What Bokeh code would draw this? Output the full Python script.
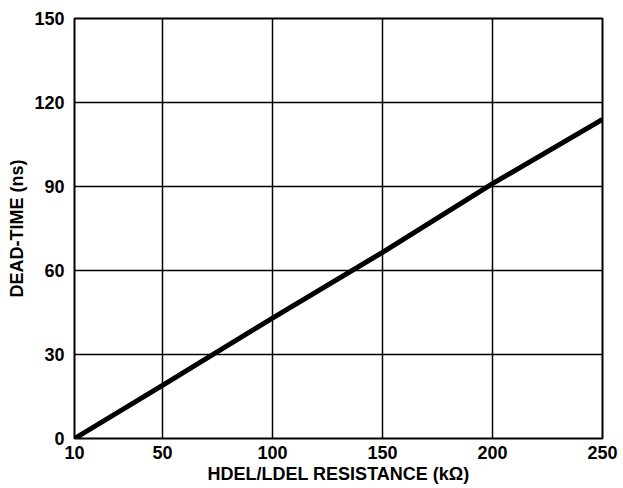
from bokeh.plotting import figure
from bokeh.models import FixedTicker, Range1d
from bokeh.embed import file_html
from bokeh.resources import INLINE

# Data
resistance_kohm = [10, 50, 100, 150, 200, 250]
dead_time_ns = [0, 19, 43, 66.5, 91, 114]
x_ticks = [10, 50, 100, 150, 200, 250]
y_ticks = [0, 30, 60, 90, 120, 150]

FONT = "Liberation Sans"

p = figure(width=623, height=488, output_backend="svg", toolbar_location=None,
           x_range=Range1d(10, 250), y_range=Range1d(0, 150),
           min_border_left=74, min_border_right=21, min_border_top=18, min_border_bottom=50)

p.line(resistance_kohm, dead_time_ns, line_color="black", line_width=5)

p.xaxis.ticker = FixedTicker(ticks=x_ticks)
p.yaxis.ticker = FixedTicker(ticks=y_ticks)

for ax in (p.xaxis[0], p.yaxis[0]):
    ax.axis_line_color = None
    ax.major_tick_line_color = None
    ax.minor_tick_line_color = None
    ax.major_tick_out = 0
    ax.major_tick_in = 0
    ax.major_label_text_font = FONT
    ax.major_label_text_font_style = "bold"
    ax.major_label_text_font_size = "18px"
    ax.major_label_text_color = "black"
    ax.axis_label_text_font = FONT
    ax.axis_label_text_font_style = "bold"
    ax.axis_label_text_font_size = "18px"
    ax.axis_label_text_color = "black"

p.xaxis.axis_label = "HDEL/LDEL RESISTANCE (kΩ)"
p.yaxis.axis_label = "DEAD-TIME (ns)"
p.xaxis.major_label_standoff = 7
p.yaxis.major_label_standoff = 10
p.xaxis.axis_label_standoff = 2
p.yaxis.axis_label_standoff = 4

p.xgrid.ticker = FixedTicker(ticks=x_ticks)
p.ygrid.ticker = FixedTicker(ticks=y_ticks)
for g in (p.xgrid[0], p.ygrid[0]):
    g.grid_line_color = "black"
    g.grid_line_width = 1.5
    g.grid_line_alpha = 1.0

p.outline_line_color = "black"
p.outline_line_width = 2
p.outline_line_alpha = 1.0
p.background_fill_color = "white"
p.border_fill_color = "white"

open("out.html", "w").write(file_html(p, INLINE))
